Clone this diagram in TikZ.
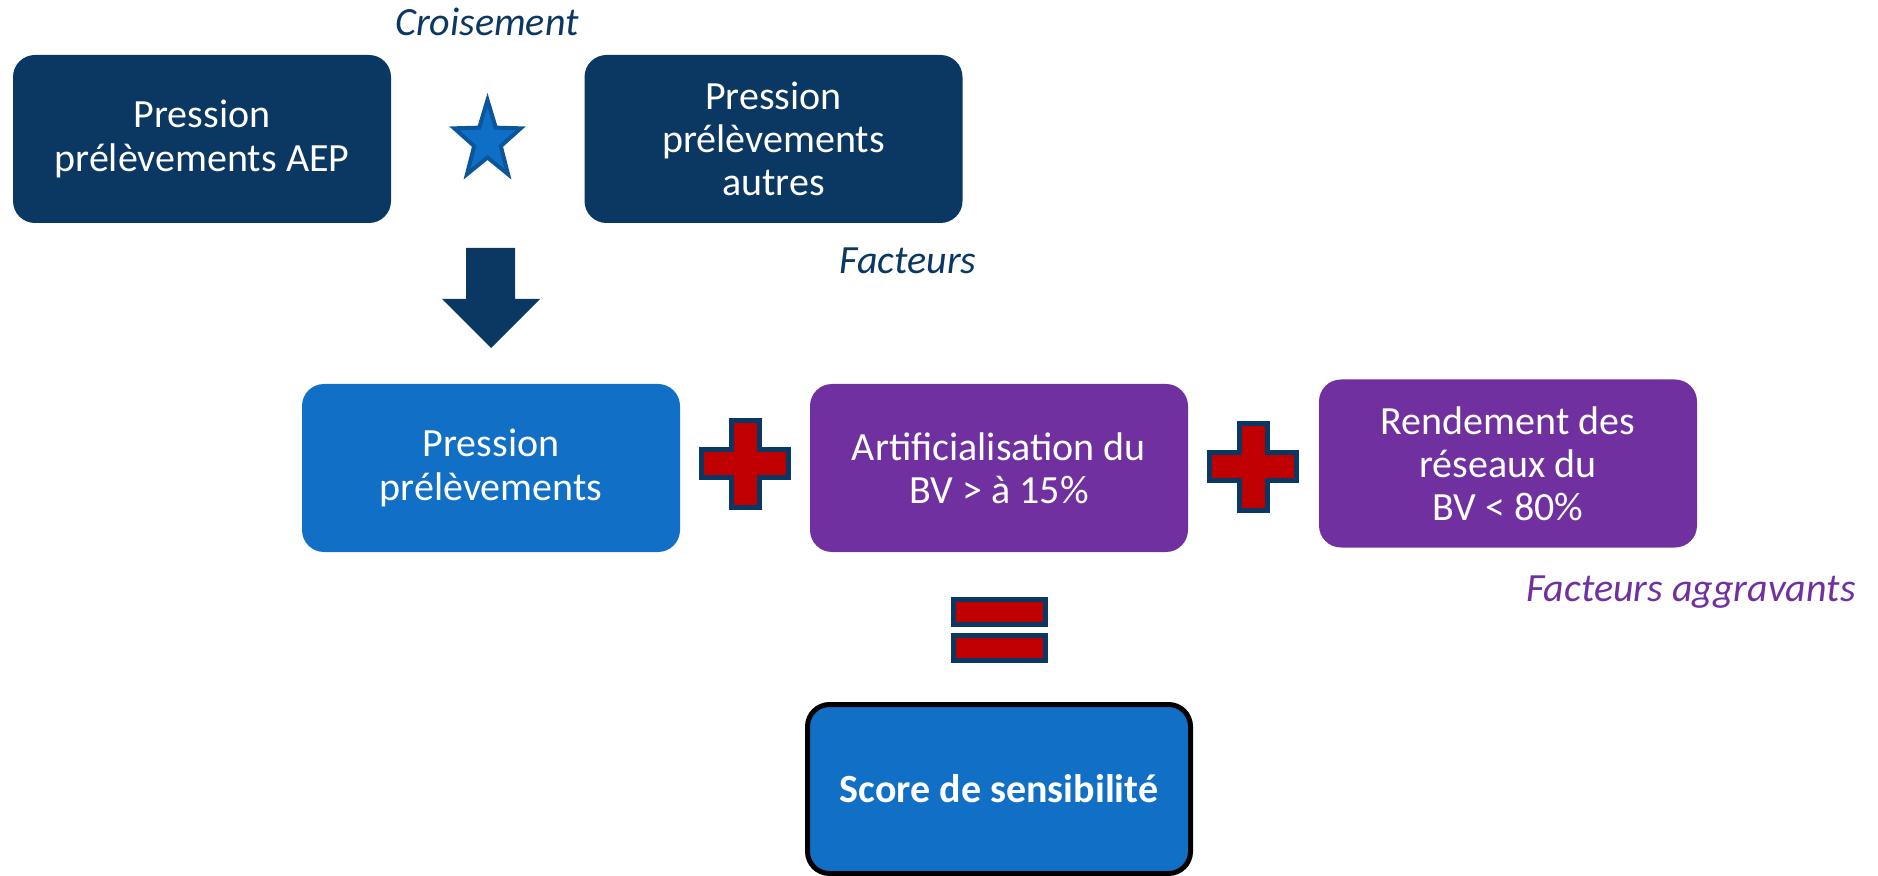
\documentclass[tikz,border=0pt]{standalone}
\usepackage{fontspec}
\setmainfont{Carlito}
\usetikzlibrary{calc}
\definecolor{navy}{HTML}{0B3763}
\definecolor{lblue}{HTML}{1170C6}
\definecolor{purp}{HTML}{7030A0}
\definecolor{redp}{HTML}{C00000}
\definecolor{starfill}{HTML}{0F6FC6}
\definecolor{starline}{HTML}{0B559A}
\tikzset{
  box/.style={rounded corners=11pt, minimum width=189pt, minimum height=84pt, align=center, text=white, font=\fontsize{20}{21.6}\selectfont, inner sep=0pt},
  darkbox/.style={box, fill=navy},
  lightbox/.style={box, fill=lblue},
  purpbox/.style={box, fill=purp},
  lbl/.style={font=\fontsize{20}{21.6}\selectfont\itshape, inner sep=0pt},
  opsign/.style={fill=redp, draw=navy, line width=2.5pt, line join=miter},
}
\begin{document}
\begin{tikzpicture}[x=0.5pt,y=-0.5pt]
\useasboundingbox (0,0) rectangle (1878,876);
% top row
\node[darkbox] (aep) at (202,139) {Pression\\prélèvements AEP};
\node[darkbox] (autres) at (773.5,139) {Pression\\prélèvements\\autres};
\node[lbl, text=navy] (crois) at (487,22) {Croisement};
\node[lbl, text=navy] (fact) at (908,261) {Facteurs};
% star
\coordinate (st) at (487.5,141);
\fill[starfill, draw=starline, line width=2pt, line join=miter]
  ($(st)+(0,-41)$)
  \foreach \i in {1,...,9} {
    -- ($(st)+({(mod(\i,2)==0 ? 41 : 16.5)*sin(36*\i)*0.85},{-(mod(\i,2)==0 ? 41 : 16.5)*cos(36*\i)})$)
  } -- cycle;
% block arrow
\coordinate (ar) at (491,248);
\fill[navy] ($(ar)+(-25,0)$) -- ($(ar)+(24,0)$) -- ($(ar)+(24,51)$) -- ($(ar)+(49,51)$)
  -- ($(ar)+(0,100)$) -- ($(ar)+(-49,51)$) -- ($(ar)+(-25,51)$) -- cycle;
% middle row
\node[lightbox] (press) at (491,468) {Pression\\prélèvements};
\node[purpbox] (artif) at (999,468) {Artificialisation du\\BV > à 15\%};
\node[purpbox] (rend) at (1508,463.5) {Rendement des\\réseaux du\\BV < 80\%};
\node[lbl, text=purp, anchor=east] (aggr) at (1856,592) {Facteurs aggravants};
% plus signs
\foreach \cx/\cy in {745/464, 1253/467} {
  \draw[opsign] (\cx-14,\cy-43.5) -- (\cx+14,\cy-43.5) -- (\cx+14,\cy-14) -- (\cx+43.5,\cy-14)
    -- (\cx+43.5,\cy+14) -- (\cx+14,\cy+14) -- (\cx+14,\cy+43.5) -- (\cx-14,\cy+43.5)
    -- (\cx-14,\cy+14) -- (\cx-43.5,\cy+14) -- (\cx-43.5,\cy-14) -- (\cx-14,\cy-14) -- cycle;
}
% equals
\draw[opsign] (953.5,599.5) rectangle (1045.5,624.5);
\draw[opsign] (953.5,635.5) rectangle (1045.5,660.5);
% result
\node[lightbox, draw=black, line width=2.5pt, minimum width=191.5pt, minimum height=84.5pt, font=\fontsize{20}{21.6}\selectfont\bfseries] (score) at (999,789) {Score de sensibilité};
\end{tikzpicture}
\end{document}
